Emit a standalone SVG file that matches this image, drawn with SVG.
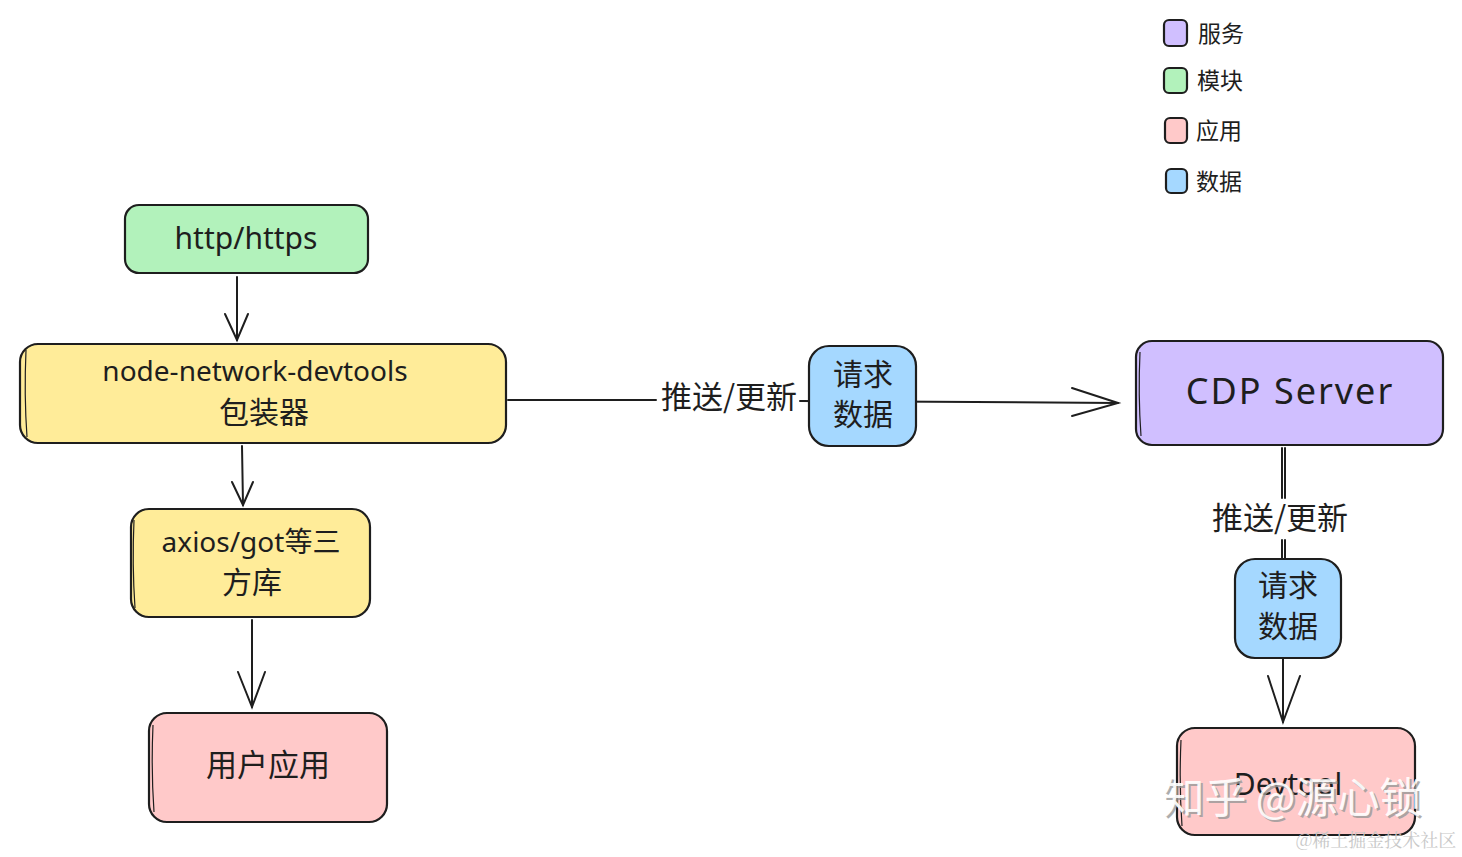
<svg xmlns="http://www.w3.org/2000/svg" width="1462" height="857" viewBox="0 0 1462 857">
<style>
.box{stroke:#1e1e1e;stroke-width:2.2}
.sk{fill:none;stroke:#1e1e1e;stroke-width:1.2}
.g{fill:#b2f2bb}.y{fill:#ffec99}.p{fill:#ffc9c9}.v{fill:#d0bfff}.b{fill:#a5d8ff}
.t{font-family:"Noto Sans CJK SC","Noto Sans",sans-serif;fill:#1e1e1e;text-anchor:middle;font-size:30px}
.hw{font-family:"Noto Sans","Noto Sans CJK SC",sans-serif;fill:#1e1e1e;text-anchor:middle}
.lg{font-family:"Noto Sans CJK SC",sans-serif;font-size:23px;fill:#1e1e1e}
.ln{fill:none;stroke:#1e1e1e;stroke-width:2;stroke-linecap:round}
</style>
<rect width="1462" height="857" fill="#ffffff"/>

<g id="legend">
<rect x="1164" y="20" width="23" height="26" rx="5" class="box v"/>
<text x="1198" y="42" class="lg">服务</text>
<rect x="1164" y="68" width="23" height="25" rx="5" class="box g"/>
<text x="1197" y="89" class="lg">模块</text>
<rect x="1165" y="118" width="22" height="25" rx="5" class="box p"/>
<text x="1196" y="139" class="lg">应用</text>
<rect x="1166" y="169" width="21" height="24" rx="5" class="box b"/>
<text x="1196" y="190" class="lg">数据</text>
</g>

<g id="connectors">
<line x1="237" y1="277" x2="237" y2="340" class="ln"/>
<polyline points="225,314 237,340 248,314" class="ln"/>
<line x1="242" y1="446" x2="243" y2="505" class="ln"/>
<polyline points="232,482 243,505 253,482" class="ln"/>
<line x1="252" y1="620" x2="252" y2="707" class="ln"/>
<polyline points="238,672 252,707 265,672" class="ln"/>
<line x1="508" y1="400" x2="656" y2="400" class="ln"/>
<line x1="800" y1="401" x2="1118" y2="403" class="ln"/>
<polyline points="1072,388 1118,403 1072,416" class="ln"/>
<text x="729" y="408" class="t" style="font-size:31px">推送/更新</text>
<line x1="1282" y1="448" x2="1282" y2="498" class="ln" stroke-width="1.5"/>
<line x1="1285" y1="448" x2="1285" y2="498" class="ln" stroke-width="1.5"/>
<line x1="1282" y1="540" x2="1282" y2="560" class="ln" stroke-width="1.5"/>
<line x1="1285" y1="540" x2="1285" y2="560" class="ln" stroke-width="1.5"/>
<line x1="1283" y1="655" x2="1283" y2="722" class="ln"/>
<polyline points="1268,676 1283,722 1300,676" class="ln"/>
<text x="1280" y="529" class="t" style="font-size:31px">推送/更新</text>
</g>

<g id="node-http">
<rect x="125" y="205" width="243" height="68" rx="14" class="box g"/>
<text x="246" y="249" class="hw" font-size="30">http/https</text>
</g>

<g id="node-wrapper">
<rect x="20" y="344" width="486" height="99" rx="18" class="box y"/>
<path d="M26,350 Q24,395 27,437" class="sk"/>
<text x="255" y="381" class="hw" font-size="28">node-network-devtools</text>
<text x="264" y="423" class="t" style="font-size:30px">包装器</text>
</g>

<g id="node-axios">
<rect x="131" y="509" width="239" height="108" rx="18" class="box y"/>
<path d="M134,520 Q132,565 135,608" class="sk"/>
<text x="251" y="552" class="hw" font-size="28">axios/got等三</text>
<text x="252" y="593" class="t" style="font-size:30px">方库</text>
</g>

<g id="node-app">
<rect x="149" y="713" width="238" height="109" rx="18" class="box p"/>
<path d="M153,725 Q151,770 154,812" class="sk"/>
<text x="268" y="776" class="t" style="font-size:31px">用户应用</text>
</g>

<g id="node-data1">
<rect x="809" y="346" width="107" height="100" rx="20" class="box b"/>
<text x="863" y="385" class="t">请求</text>
<text x="863" y="425" class="t">数据</text>
</g>

<g id="node-cdp">
<rect x="1136" y="341" width="307" height="104" rx="16" class="box v"/>
<path d="M1140,352 Q1138,395 1141,436" class="sk"/>
<text x="1290" y="404" class="hw" font-size="36" letter-spacing="2">CDP Server</text>
</g>

<g id="node-data2">
<rect x="1235" y="559" width="106" height="99" rx="20" class="box b"/>
<text x="1288" y="596" class="t">请求</text>
<text x="1288" y="637" class="t">数据</text>
</g>

<g id="node-devtool">
<rect x="1177" y="728" width="238" height="107" rx="18" class="box p"/>
<path d="M1181,740 Q1179,785 1182,826" class="sk"/>
<text x="1288" y="795" class="hw" font-size="30">Devtool</text>
</g>

<g id="watermark">
<text x="1292" y="813" font-family="Noto Sans CJK SC,sans-serif" font-size="42" fill="#999999" text-anchor="middle" opacity="0.8" transform="translate(2,2)">知乎 @源心锁</text>
<text x="1292" y="813" font-family="Noto Sans CJK SC,sans-serif" font-size="42" fill="#ffffff" text-anchor="middle" opacity="0.9">知乎 @源心锁</text>
<text x="1376" y="847" font-family="Noto Serif CJK SC,Noto Sans CJK SC,serif" font-size="18" fill="#c8c8c8" text-anchor="middle">@稀土掘金技术社区</text>
</g>
</svg>
